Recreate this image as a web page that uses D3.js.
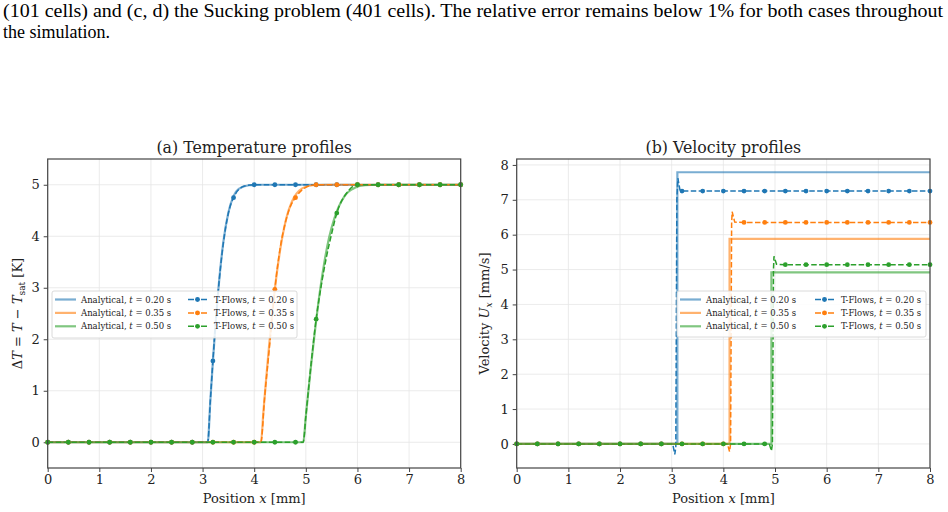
<!DOCTYPE html>
<html>
<head>
<meta charset="utf-8">
<script src="https://cdn.jsdelivr.net/npm/d3@7"></script>
<style>
  body { margin: 0; background: #fff; }
  svg { display: block; }
  text { font-family: "DejaVu Serif", serif; fill: #222; }
  .caption { font-family: "Liberation Serif", serif; fill: #000; }
</style>
</head>
<body>
<div id="fig"></div>
<script>
// ---- data ----
var times = ["0.20", "0.35", "0.50"];
var colors = ["#1f77b4", "#ff7f0e", "#2ca02c"];
var xTicks = [0, 1, 2, 3, 4, 5, 6, 7, 8];
var tempTicks = [0, 1, 2, 3, 4, 5];
var velTicks = [0, 1, 2, 3, 4, 5, 6, 7, 8];

// T-Flows markers every 0.4 mm
var markerX = [0, 0.4, 0.8, 1.2, 1.6, 2.0, 2.4, 2.8, 3.2, 3.6, 4.0, 4.4, 4.8, 5.2, 5.6, 6.0, 6.4, 6.8, 7.2, 7.6, 8.0];
var tempMarkBlue   = [0, 0, 0, 0, 0, 0, 0, 0, 1.58, 4.75, 5, 5, 5, 5, 5, 5, 5, 5, 5, 5, 5];
var tempMarkOrange = [0, 0, 0, 0, 0, 0, 0, 0, 0, 0, 0, 2.97, 4.75, 5, 5, 5, 5, 5, 5, 5, 5];
var tempMarkGreen  = [0, 0, 0, 0, 0, 0, 0, 0, 0, 0, 0, 0, 0, 2.39, 4.45, 5, 5, 5, 5, 5, 5];
var velMarkBlue    = [0, 0, 0, 0, 0, 0, 0, 0, 7.25, 7.25, 7.25, 7.25, 7.25, 7.25, 7.25, 7.25, 7.25, 7.25, 7.25, 7.25, 7.25];
var velMarkOrange  = [0, 0, 0, 0, 0, 0, 0, 0, 0, 0, 0, 6.35, 6.35, 6.35, 6.35, 6.35, 6.35, 6.35, 6.35, 6.35, 6.35];
var velMarkGreen   = [0, 0, 0, 0, 0, 0, 0, 0, 0, 0, 0, 0, 0, 5.14, 5.14, 5.14, 5.14, 5.14, 5.14, 5.14, 5.14];

// analytical temperature profiles [x, dT]
var tempAnaBlue = [[0, 0], [3.1, 0], [3.15, 0.80], [3.2, 1.57], [3.25, 2.28], [3.3, 2.90], [3.4, 3.87], [3.5, 4.46],
  [3.6, 4.78], [3.7, 4.92], [3.9, 4.99], [4.1, 5], [8, 5]];
var tempAnaOrange = [[0, 0], [4.13, 0], [4.18, 0.61], [4.23, 1.21], [4.28, 1.78], [4.33, 2.31], [4.43, 3.22], [4.53, 3.90],
  [4.63, 4.38], [4.73, 4.67], [4.93, 4.93], [5.13, 4.99], [5.4, 5], [8, 5]];
var tempAnaGreen = [[0, 0], [4.95, 0], [5.0, 0.50], [5.05, 1.00], [5.1, 1.48], [5.15, 1.93], [5.25, 2.76], [5.35, 3.44],
  [5.45, 3.97], [5.55, 4.34], [5.75, 4.78], [5.95, 4.94], [6.15, 4.99], [6.4, 5], [8, 5]];

// T-Flows temperature lines
var tempTfBlue = [[0, 0], [3.1, 0], [3.15, 0.8], [3.2, 1.58], [3.3, 2.9], [3.4, 3.85], [3.5, 4.45], [3.6, 4.75],
  [3.8, 4.97], [4.0, 5], [8, 5]];
var tempTfOrange = [[0, 0], [4.13, 0], [4.2, 0.85], [4.3, 1.9], [4.4, 2.97], [4.5, 3.75], [4.6, 4.25], [4.7, 4.58],
  [4.8, 4.75], [5.0, 4.95], [5.2, 5], [8, 5]];
var tempTfGreen = [[0, 0], [4.95, 0], [5.0, 0.5], [5.1, 1.5], [5.2, 2.39], [5.3, 3.05], [5.4, 3.6], [5.5, 4.05],
  [5.6, 4.45], [5.8, 4.85], [6.0, 5], [8, 5]];

// analytical velocity (step)
var velAnaBlue   = [[0, 0], [3.11, 0], [3.11, 7.79], [8, 7.79]];
var velAnaOrange = [[0, 0], [4.12, 0], [4.12, 5.88], [8, 5.88]];
var velAnaGreen  = [[0, 0], [4.93, 0], [4.93, 4.92], [8, 4.92]];

// T-Flows velocity (with over/undershoot at the front)
var velTfBlue = [[0, 0], [3.02, 0], [3.06, -0.3], [3.08, -0.1], [3.1, 7.0], [3.12, 7.62], [3.16, 7.28], [3.2, 7.25], [8, 7.25]];
var velTfOrange = [[0, 0], [4.08, 0], [4.12, -0.22], [4.14, 0], [4.16, 6.3], [4.17, 6.66], [4.22, 6.36], [4.4, 6.35], [8, 6.35]];
var velTfGreen = [[0, 0], [4.89, 0], [4.93, -0.2], [4.95, 0], [4.97, 5.0], [4.98, 5.38], [5.03, 5.15], [5.2, 5.14], [8, 5.14]];

var W = 948, H = 512;
var svg = d3.select("#fig").append("svg").attr("width", W).attr("height", H);

// caption from the paper
svg.append("text").attr("class", "caption")
  .attr("x", 3).attr("y", 17).attr("font-size", "18px")
  .attr("textLength", 940).attr("lengthAdjust", "spacingAndGlyphs")
  .text("(101 cells) and (c, d) the Sucking problem (401 cells). The relative error remains below 1% for both cases throughout");
svg.append("text").attr("class", "caption")
  .attr("x", 3).attr("y", 38).attr("font-size", "18px")
  .text("the simulation.");

function panel(opts) {
  var x = d3.scaleLinear().domain([0, 8]).range([opts.left, opts.right]);
  var y = d3.scaleLinear().domain(opts.ydom).range([468, 159]);
  var g = svg.append("g");

  // grid
  g.selectAll(".gx").data(xTicks).enter().append("line")
    .attr("x1", d => x(d)).attr("x2", d => x(d)).attr("y1", 159).attr("y2", 468)
    .attr("stroke", "#e6e6e6").attr("stroke-width", 0.8);
  g.selectAll(".gy").data(opts.yticks).enter().append("line")
    .attr("y1", d => y(d)).attr("y2", d => y(d)).attr("x1", opts.left).attr("x2", opts.right)
    .attr("stroke", "#e6e6e6").attr("stroke-width", 0.8);

  // axes
  var xAxis = d3.axisBottom(x).tickValues(xTicks).tickSize(4).tickPadding(3).tickFormat(d3.format("d"));
  var yAxis = d3.axisLeft(y).tickValues(opts.yticks).tickSize(4).tickPadding(4).tickFormat(d3.format("d"));
  var ax = g.append("g").attr("transform", "translate(0,468)").call(xAxis);
  var ay = g.append("g").attr("transform", "translate(" + opts.left + ",0)").call(yAxis);
  [ax, ay].forEach(function (a) {
    a.select(".domain").remove();
    a.selectAll("line").attr("stroke", "#444");
    a.selectAll("text").attr("font-size", "13px").attr("font-family", "DejaVu Serif").attr("fill", "#222");
  });

  var line = d3.line().x(d => x(d[0])).y(d => y(d[1]));
  var smooth = d3.line().x(d => x(d[0])).y(d => y(d[1])).curve(d3.curveMonotoneX);
  var lg = g.append("g");

  // analytical
  opts.ana.forEach(function (s, i) {
    lg.append("path").datum(s).attr("d", opts.smooth ? smooth : line)
      .attr("fill", "none").attr("stroke", colors[i]).attr("stroke-width", 2.2).attr("stroke-opacity", 0.6);
  });
  // T-Flows
  opts.tf.forEach(function (s, i) {
    lg.append("path").datum(s).attr("d", opts.smooth ? smooth : line)
      .attr("fill", "none").attr("stroke", colors[i]).attr("stroke-width", 1.5)
      .attr("stroke-dasharray", "5.5,2.4");
    lg.selectAll(null).data(opts.marks[i]).enter().append("circle")
      .attr("cx", (d, j) => x(markerX[j])).attr("cy", d => y(d)).attr("r", 2.4)
      .attr("fill", colors[i]);
  });

  // frame
  g.append("rect").attr("x", opts.left).attr("y", 159)
    .attr("width", opts.right - opts.left).attr("height", 309)
    .attr("fill", "none").attr("stroke", "#444").attr("stroke-width", 1.2);

  // title
  g.append("text").attr("x", (opts.left + opts.right) / 2).attr("y", 153)
    .attr("text-anchor", "middle").attr("font-size", "15.8px").text(opts.title);

  // x label
  var xl = g.append("text").attr("x", (opts.left + opts.right) / 2).attr("y", 503)
    .attr("text-anchor", "middle").attr("font-size", "13px");
  xl.append("tspan").text("Position ");
  xl.append("tspan").attr("font-style", "italic").text("x");
  xl.append("tspan").text(" [mm]");

  // y label
  var yl = g.append("text")
    .attr("transform", "translate(" + opts.ylabX + ",313.5) rotate(-90)")
    .attr("text-anchor", "middle").attr("font-size", "13px");
  opts.ylab(yl);

  // legend
  var L = opts.legend;
  g.append("rect").attr("x", L.x).attr("y", L.y).attr("width", L.w).attr("height", L.h)
    .attr("rx", 2).attr("fill", "#fff").attr("fill-opacity", 0.85)
    .attr("stroke", "#d0d0d0").attr("stroke-width", 0.8);
  times.forEach(function (t, i) {
    var ry = L.y + 8.5 + i * 13.4;
    g.append("line").attr("x1", L.x + 3).attr("x2", L.x + 24).attr("y1", ry).attr("y2", ry)
      .attr("stroke", colors[i]).attr("stroke-width", 2.2).attr("stroke-opacity", 0.6);
    var t1 = g.append("text").attr("x", L.x + 29).attr("y", ry + 3).attr("font-size", "8.5px");
    t1.append("tspan").text("Analytical, ");
    t1.append("tspan").attr("font-style", "italic").text("t");
    t1.append("tspan").text(" = " + t + " s");

    var c2 = L.x + L.col2;
    g.append("line").attr("x1", c2).attr("x2", c2 + 19).attr("y1", ry).attr("y2", ry)
      .attr("stroke", colors[i]).attr("stroke-width", 1.5).attr("stroke-dasharray", "6,1.5,4,1.5,6");
    g.append("circle").attr("cx", c2 + 9.5).attr("cy", ry).attr("r", 2.4).attr("fill", colors[i]);
    var t2 = g.append("text").attr("x", c2 + 26).attr("y", ry + 3).attr("font-size", "8.5px");
    t2.append("tspan").text("T-Flows, ");
    t2.append("tspan").attr("font-style", "italic").text("t");
    t2.append("tspan").text(" = " + t + " s");
  });
}

panel({
  left: 47.7, right: 460.7, ydom: [-0.5, 5.5], yticks: tempTicks, smooth: true,
  ana: [tempAnaBlue, tempAnaOrange, tempAnaGreen],
  tf: [tempTfBlue, tempTfOrange, tempTfGreen],
  marks: [tempMarkBlue, tempMarkOrange, tempMarkGreen],
  title: "(a) Temperature profiles",
  ylabX: 22,
  ylab: function (t) {
    t.append("tspan").text("\u0394");
    t.append("tspan").attr("font-style", "italic").text("T");
    t.append("tspan").text(" = ");
    t.append("tspan").attr("font-style", "italic").text("T");
    t.append("tspan").text(" \u2212 ");
    t.append("tspan").attr("font-style", "italic").text("T");
    t.append("tspan").attr("font-size", "9px").attr("dy", 3).text("sat");
    t.append("tspan").attr("dy", -3).text(" [K]");
  },
  legend: { x: 52, y: 291, w: 245, h: 47, col2: 136 }
});

panel({
  left: 516.7, right: 930, ydom: [-0.69, 8.17], yticks: velTicks, smooth: false,
  ana: [velAnaBlue, velAnaOrange, velAnaGreen],
  tf: [velTfBlue, velTfOrange, velTfGreen],
  marks: [velMarkBlue, velMarkOrange, velMarkGreen],
  title: "(b) Velocity profiles",
  ylabX: 489,
  ylab: function (t) {
    t.append("tspan").text("Velocity ");
    t.append("tspan").attr("font-style", "italic").text("U");
    t.append("tspan").attr("font-style", "italic").attr("font-size", "9px").attr("dy", 3).text("x");
    t.append("tspan").attr("dy", -3).text(" [mm/s]");
  },
  legend: { x: 677, y: 291, w: 249, h: 46, col2: 138 }
});
</script>
</body>
</html>
